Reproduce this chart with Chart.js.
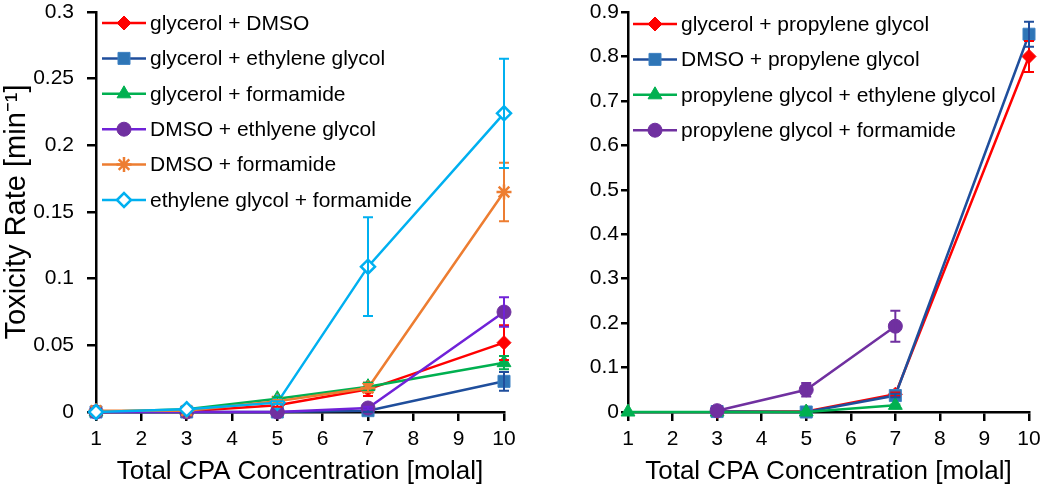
<!DOCTYPE html>
<html>
<head>
<meta charset="utf-8">
<script src="https://cdn.jsdelivr.net/npm/chart.js@4.4.1/dist/chart.umd.min.js"></script>
<style>
  html, body { margin: 0; padding: 0; background: #fff; }
  #wrap { display: flex; width: 1050px; height: 490px; }
  .box { position: relative; width: 525px; height: 490px; }
</style>
</head>
<body>
<div id="wrap">
  <div class="box"><canvas id="left"></canvas></div>
  <div class="box"><canvas id="right"></canvas></div>
</div>
<script>
// x positions (total CPA concentration, molal)
const conc = [1, 3, 5, 7, 10];

// left panel
const leftLabels = [
  'glycerol + DMSO',
  'glycerol + ethylene glycol',
  'glycerol + formamide',
  'DMSO + ethlyene glycol',
  'DMSO + formamide',
  'ethylene glycol + formamide'
];
const glyDmso    = [0, 0.0005, 0.005, 0.017, 0.052];
const glyDmsoErr = [0, 0, 0.001, 0.005, 0.013];
const glyEg      = [0, 0, 0, 0.001, 0.023];
const glyEgErr   = [0, 0, 0, 0.001, 0.007];
const glyForm    = [0, 0.002, 0.010, 0.019, 0.037];
const glyFormErr = [0, 0, 0.001, 0.003, 0.005];
const dmsoEg     = [0, 0, 0, 0.003, 0.075];
const dmsoEgErr  = [0, 0, 0, 0.001, 0.011];
const dmsoForm   = [0.001, 0.001, 0.008, 0.018, 0.165];
const dmsoFormErr= [0, 0, 0.001, 0.003, 0.022];
const egForm     = [0, 0.002, 0.007, 0.109, 0.224];
const egFormErr  = [0, 0, 0.001, 0.037, 0.041];

// right panel
const rightLabels = [
  'glycerol + propylene glycol',
  'DMSO + propylene glycol',
  'propylene glycol + ethylene glycol',
  'propylene glycol + formamide'
];
const glyPg     = [null, 0.001, 0.001, 0.040, 0.800];
const glyPgErr  = [0, 0, 0, 0.004, 0.035];
const dmsoPg    = [null, 0.001, 0, 0.037, 0.850];
const dmsoPgErr = [0, 0, 0, 0.004, 0.028];
const pgEg      = [0, 0, 0, 0.015, null];
const pgEgErr   = [0, 0, 0, 0.002, 0];
const pgForm    = [null, 0.003, 0.050, 0.193, null];
const pgFormErr = [0, 0.002, 0.015, 0.035, 0];

const leftTicksY = { max: 0.3, step: 0.05 };
const rightTicksY = { max: 0.9, step: 0.1 };

const FONT = "'Liberation Sans', Arial, sans-serif";

function series(label, vals, err, line, fill, border, style, radius, bw) {
  return {
    label: label,
    data: vals.map((v, i) => ({ x: conc[i], y: v })),
    err: err,
    borderColor: line,
    borderWidth: 2.5,
    pointStyle: style,
    pointRadius: radius,
    pointBackgroundColor: fill,
    pointBorderColor: border,
    pointBorderWidth: bw,
    tension: 0,
    clip: false
  };
}

// vertical error bars with caps
const errorBars = {
  id: 'errorBars',
  afterDatasetsDraw(chart) {
    const ctx = chart.ctx;
    const ys = chart.scales.y;
    ctx.save();
    chart.data.datasets.forEach((ds, i) => {
      const meta = chart.getDatasetMeta(i);
      ds.data.forEach((p, j) => {
        const e = ds.err[j];
        if (p.y == null || !e) return;
        const x = meta.data[j].x;
        const t = ys.getPixelForValue(p.y + e);
        const b = ys.getPixelForValue(Math.max(0, p.y - e));
        ctx.strokeStyle = ds.borderColor;
        ctx.lineWidth = 2;
        ctx.beginPath();
        ctx.moveTo(x, t); ctx.lineTo(x, b);
        ctx.moveTo(x - 5, t); ctx.lineTo(x + 5, t);
        ctx.moveTo(x - 5, b); ctx.lineTo(x + 5, b);
        ctx.stroke();
      });
    });
    ctx.restore();
  }
};

// legend drawn inside the plot area, line + marker + text
const insideLegend = {
  id: 'insideLegend',
  afterDraw(chart, args, o) {
    const ctx = chart.ctx;
    const area = chart.chartArea;
    ctx.save();
    chart.data.datasets.forEach((ds, i) => {
      const y = area.top + o.top + i * o.gap;
      const x0 = area.left + o.left;
      ctx.strokeStyle = ds.borderColor;
      ctx.lineWidth = 2.5;
      ctx.beginPath();
      ctx.moveTo(x0, y); ctx.lineTo(x0 + 44, y);
      ctx.stroke();
      ctx.fillStyle = ds.pointBackgroundColor;
      ctx.strokeStyle = ds.pointBorderColor;
      ctx.lineWidth = ds.pointBorderWidth;
      Chart.helpers.drawPoint(ctx, {
        pointStyle: ds.pointStyle, radius: ds.pointRadius,
        borderWidth: ds.pointBorderWidth, rotation: 0
      }, x0 + 22, y);
      ctx.fillStyle = '#000';
      ctx.font = '21px ' + FONT;
      ctx.textBaseline = 'middle';
      ctx.textAlign = 'left';
      ctx.fillText(ds.label, x0 + 48, y + 1);
    });
    ctx.restore();
  }
};

function makeChart(id, datasets, yr, yTitle, yWidth, yPad, yTick, legendLeft, legendTop) {
  datasets.forEach((d, i) => { d.order = -i; });
  return new Chart(document.getElementById(id), {
    type: 'line',
    data: { datasets: datasets },
    options: {
      responsive: false,
      animation: false,
      events: [],
      layout: { padding: { top: 12, right: 21, left: 0, bottom: 0 } },
      plugins: {
        legend: { display: false },
        tooltip: { enabled: false },
        insideLegend: { left: legendLeft, top: legendTop, gap: 35.4 }
      },
      scales: {
        x: {
          type: 'linear', min: 1, max: 10,
          ticks: { stepSize: 1, color: '#000', padding: 6, font: { family: FONT, size: 21 } },
          grid: { display: true, drawOnChartArea: false, drawTicks: true, tickLength: 9, color: '#000', lineWidth: 2.5 },
          border: { display: true, color: '#000', width: 2.5 },
          title: { display: true, text: 'Total CPA Concentration [molal]', color: '#000',
                   font: { family: FONT, size: 26 }, padding: { top: 0, bottom: 3 } },
          afterFit: s => { s.height = 78; }
        },
        y: {
          min: 0, max: yr.max,
          ticks: { stepSize: yr.step, color: '#000', padding: yPad, font: { family: FONT, size: 21 },
                   callback: v => String(+v.toFixed(2)) },
          grid: { display: true, drawOnChartArea: false, drawTicks: true, tickLength: yTick, color: '#000', lineWidth: 2.5 },
          border: { display: true, color: '#000', width: 2.5 },
          title: { display: !!yTitle, text: yTitle, color: '#000',
                   font: { family: FONT, size: 29 }, padding: { top: 0, bottom: 0 } },
          afterFit: s => { s.width = yWidth; s.paddingTop = 0; s.paddingBottom = 0; }
        }
      }
    },
    plugins: [errorBars, insideLegend]
  });
}

['left', 'right'].forEach(id => {
  const c = document.getElementById(id);
  c.width = 525; c.height = 490;
});

makeChart('left', [
  series(leftLabels[0], glyDmso, glyDmsoErr, '#ff0000', '#ff0000', '#ff0000', 'rectRot', 7, 1),
  series(leftLabels[1], glyEg, glyEgErr, '#1f4e9c', '#2e75b6', '#3f82c4', 'rect', 8.5, 1),
  series(leftLabels[2], glyForm, glyFormErr, '#00b050', '#00b050', '#00b050', 'triangle', 8, 1),
  series(leftLabels[3], dmsoEg, dmsoEgErr, '#7022d8', '#7030a0', '#7030a0', 'circle', 7, 1),
  series(leftLabels[4], dmsoForm, dmsoFormErr, '#ed7d31', '#ed7d31', '#ed7d31', 'star', 7.5, 2.5),
  series(leftLabels[5], egForm, egFormErr, '#00b0f0', '#ffffff', '#00b0f0', 'rectRot', 7, 2.5)
], leftTicksY, 'Toxicity Rate [min\u207B\u00B9]', 96, 13, 9, 6, 11);

makeChart('right', [
  series(rightLabels[0], glyPg, glyPgErr, '#ff0000', '#ff0000', '#ff0000', 'rectRot', 7, 1),
  series(rightLabels[1], dmsoPg, dmsoPgErr, '#1f4e9c', '#2e75b6', '#3f82c4', 'rect', 8.5, 1),
  series(rightLabels[2], pgEg, pgEgErr, '#00b050', '#00b050', '#00b050', 'triangle', 8, 1),
  series(rightLabels[3], pgForm, pgFormErr, '#7030a0', '#7030a0', '#7030a0', 'circle', 7, 1)
], rightTicksY, '', 103, 2, 7, 5, 12);
</script>
</body>
</html>
